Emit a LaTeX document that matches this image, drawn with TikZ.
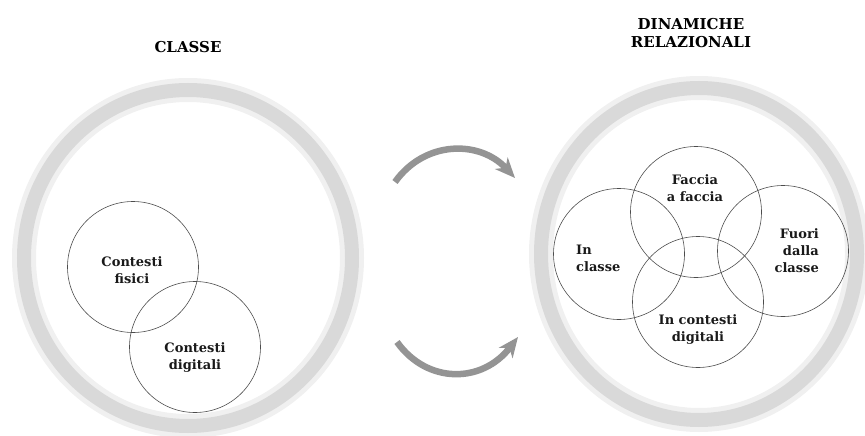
\documentclass[tikz,border=0pt]{standalone}
\usepackage{fontspec}
\setmainfont{DejaVu Serif}
\usetikzlibrary{arrows.meta}
\begin{document}
\begin{tikzpicture}[x=1pt,y=-1pt,
  ringsoft/.style={line width=24pt, draw=black!6},
  ring/.style={line width=14pt, draw=black!15},
  venn/.style={circle, draw=black!70, line width=0.6pt, minimum size=131pt, inner sep=0pt},
  lbl/.style={font=\bfseries\fontsize{13}{17}\selectfont, text=black!90, inner sep=0pt},
  ttl/.style={font=\bfseries\fontsize{15}{18}\selectfont, align=center, inner sep=0pt},
  flow/.style={line width=6.5pt, draw=black!42, -{Stealth[length=20pt,width=17pt,inset=6pt]}}
]
\useasboundingbox (0,0) rectangle (865,436);

% outer stippled rings
\draw[ringsoft] (188,258) ellipse [x radius=164, y radius=168];
\draw[ring] (188,258) ellipse [x radius=164, y radius=168];
\draw[ringsoft] (699,254) ellipse [x radius=158, y radius=166];
\draw[ring] (699,254) ellipse [x radius=158, y radius=166];

% titles
\node[ttl] (t1) at (188,47) {CLASSE};
\node[ttl] (t2) at (691,33) {DINAMICHE\\RELAZIONALI};

% left venn
\node[venn] (cf) at (133,267) {};
\node[venn] (cd) at (195,347) {};
\node[lbl, align=center] (lcf) at (132,270) {Contesti\\fisici};
\node[lbl, align=center] (lcd) at (195,358) {Contesti\\digitali};

% right venn
\node[venn] (ic) at (619,254) {};
\node[venn] (ff) at (696,212) {};
\node[venn] (fc) at (783,251) {};
\node[venn] (id) at (698,302) {};
\node[lbl, align=left, anchor=west] (lic) at (576,258) {In\\classe};
\node[lbl, align=center] (lff) at (695,188) {Faccia\\a faccia};
\node[lbl, align=right, anchor=east] (lfc) at (819,251) {Fuori\\dalla\\classe};
\node[lbl, align=center] (lid) at (698,330) {In contesti\\digitali};

% arrows
\coordinate (a1s) at (395,182);
\coordinate (a1e) at (515,178);
\coordinate (a2s) at (397,342);
\coordinate (a2e) at (518,337);
\draw[flow] (a1s) .. controls (425,140) and (480,140) .. (a1e);
\draw[flow] (a2s) .. controls (427,384) and (482,384) .. (a2e);
\end{tikzpicture}
\end{document}
